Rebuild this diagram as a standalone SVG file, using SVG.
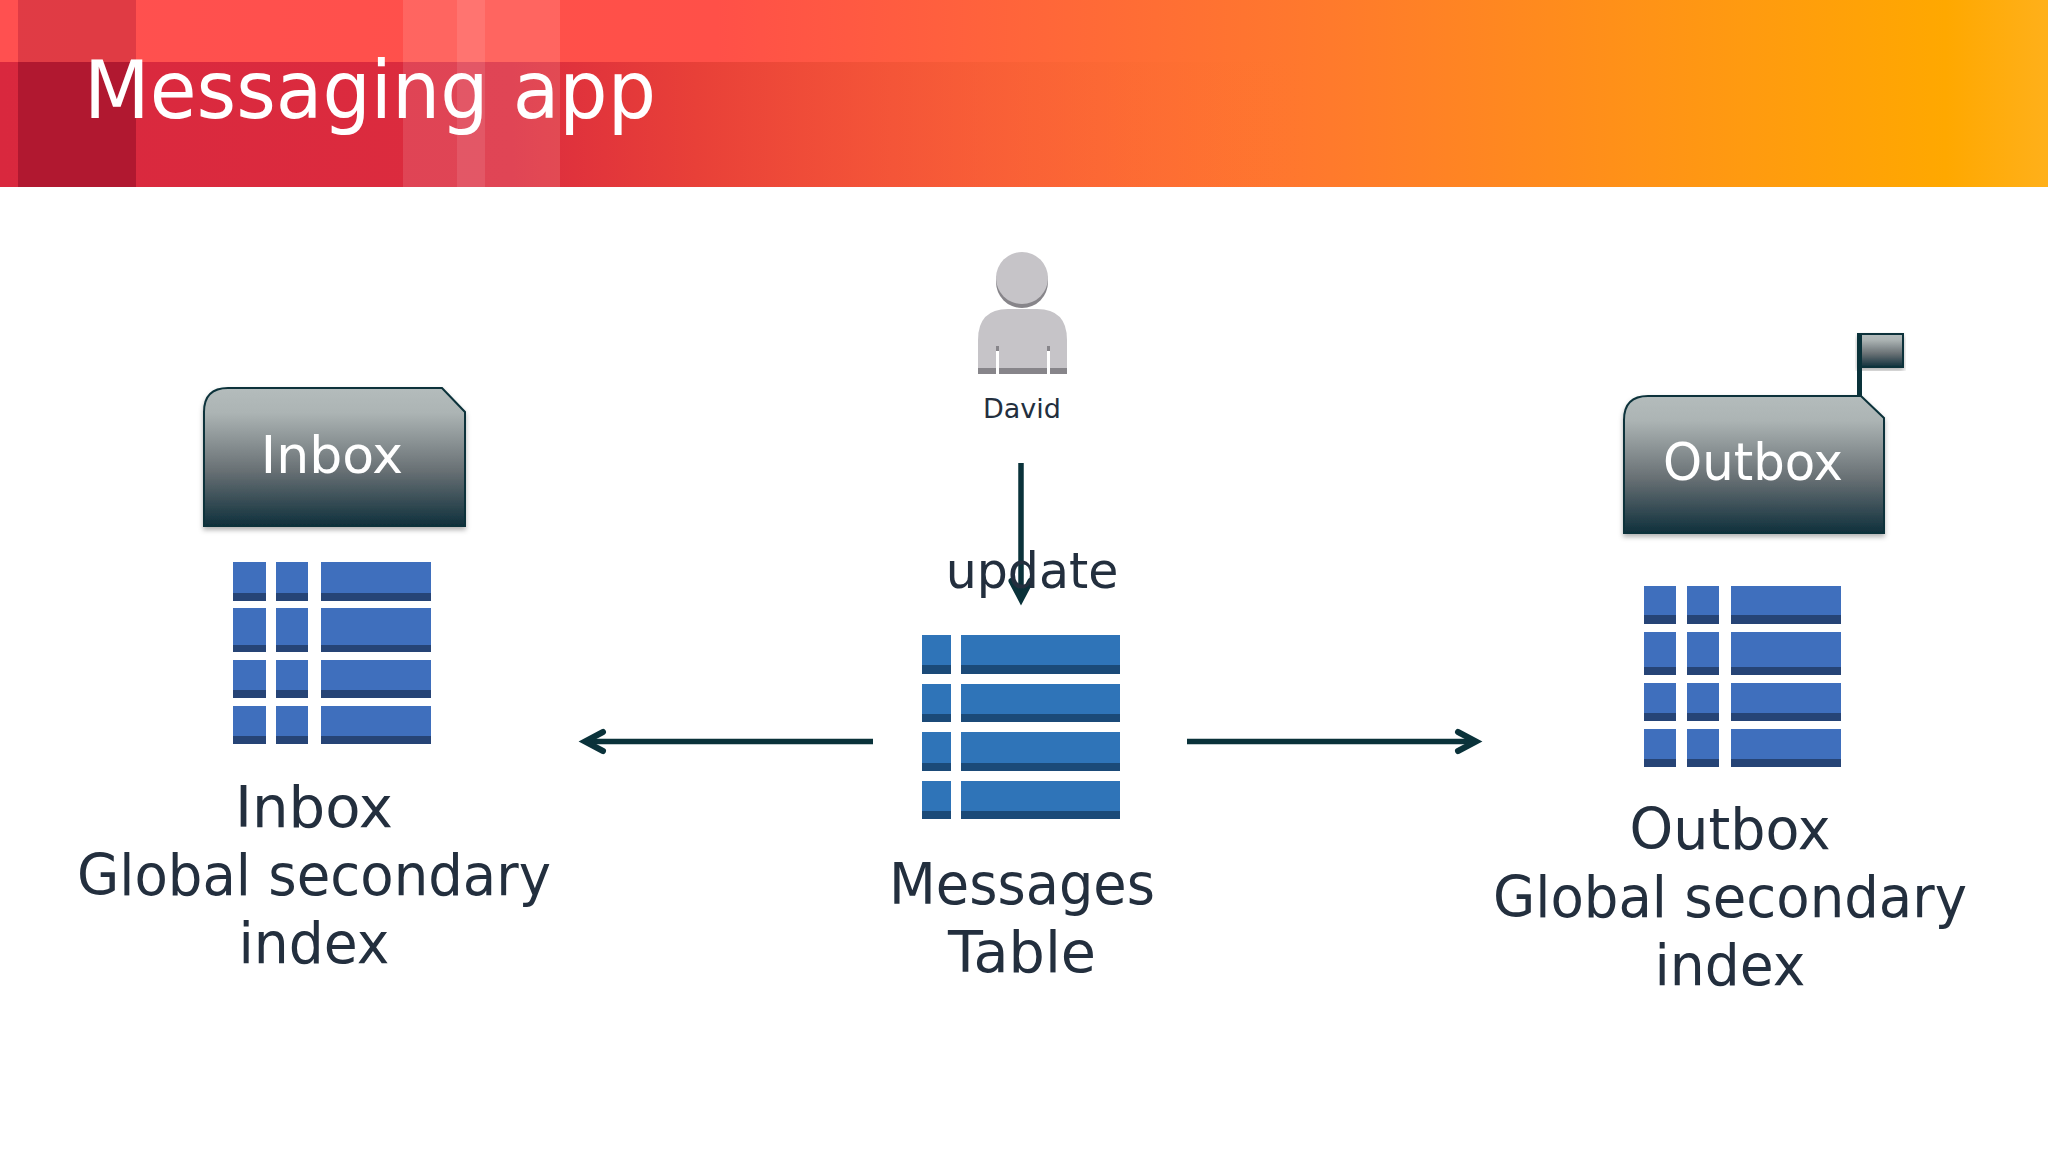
<svg xmlns="http://www.w3.org/2000/svg" width="2048" height="1152" viewBox="0 0 2048 1152">
<style>
.t{font-family:"DejaVu Sans",sans-serif;fill:#232f3e;text-anchor:middle}
.l{font-size:57px}
.w{fill:#fff;font-family:"DejaVu Sans",sans-serif;text-anchor:middle;font-size:52px}
.c{stroke:#0a323a;stroke-width:5.5;fill:none}
.a{fill:#3f6fbd}.ad{fill:#264476}
.b{fill:#2f74b8}.bd{fill:#1b4a78}
</style>
<defs>
<linearGradient id="hdr" x1="0" x2="1" y1="0" y2="0"><stop offset="0" stop-color="#ff5050"/><stop offset=".35" stop-color="#ff5048"/><stop offset=".65" stop-color="#ff7a2c"/><stop offset=".85" stop-color="#ff9a10"/><stop offset=".95" stop-color="#ffa800"/><stop offset="1" stop-color="#ffb01a"/></linearGradient>
<linearGradient id="dk" x1="0" x2="1" y1="0" y2="0"><stop offset="0" stop-color="#d9283e"/><stop offset=".25" stop-color="#dc2c3e"/><stop offset=".34" stop-color="#e84038"/><stop offset=".65" stop-color="#ff7a2c" stop-opacity="0"/></linearGradient>
<linearGradient id="box" x1="0" x2="0" y1="0" y2="1"><stop offset="0" stop-color="#b4bcbc"/><stop offset=".18" stop-color="#acb4b4"/><stop offset=".6" stop-color="#687074"/><stop offset="1" stop-color="#0f303c"/></linearGradient>
<filter id="sh" x="-5%" y="-5%" width="110%" height="115%"><feDropShadow dx="0" dy="3" stdDeviation="2.5" flood-color="#000" flood-opacity=".3"/></filter>
<marker id="arr" markerUnits="userSpaceOnUse" markerWidth="36" markerHeight="36" refX="26" refY="18" orient="auto"><path d="M8 8.5L26 18L8 27.5" fill="none" stroke="#0a323a" stroke-width="6" stroke-linecap="round" stroke-linejoin="miter"/></marker>
</defs>
<rect width="2048" height="1152" fill="#fff"/>
<g id="header">
<rect width="2048" height="187" fill="url(#hdr)"/>
<rect y="62" width="2048" height="125" fill="url(#dk)"/>
<rect x="18" width="118" height="187" fill="#a01030" opacity=".32"/>
<rect x="18" y="62" width="118" height="125" fill="#8a0c20" opacity=".35"/>
<rect x="403" width="157" height="187" fill="#fff" opacity=".12"/>
<rect x="457" width="28" height="187" fill="#fff" opacity=".1"/>
<text x="84" y="118" font-family="DejaVu Sans, sans-serif" font-size="80" fill="#fff" textLength="572" lengthAdjust="spacingAndGlyphs">Messaging app</text>
</g>
<g id="connectors">
<path class="c" d="M1021 463V599" marker-end="url(#arr)"/>
<path class="c" d="M873 741.5H585" marker-end="url(#arr)"/>
<path class="c" d="M1187 741.5H1476" marker-end="url(#arr)"/>
</g>
<g id="david">
<circle cx="1022" cy="282" r="26" fill="#87858a"/>
<circle cx="1022" cy="278" r="26" fill="#c6c4c8"/>
<path d="M978 374V340Q978 309 1008 309H1037Q1067 309 1067 340V374Z" fill="#c6c4c8"/>
<rect x="978" y="368" width="89" height="6" fill="#87858a"/>
<rect x="996" y="346" width="3" height="28" fill="#fff"/><rect x="1047" y="346" width="3" height="28" fill="#fff"/>
<rect x="996" y="346" width="3" height="5" fill="#87858a"/><rect x="1047" y="346" width="3" height="5" fill="#87858a"/>
<text class="t" x="1022" y="418" font-size="27">David</text>
</g>
<g id="update"><text class="t" x="1032" y="588" font-size="49">update</text></g>
<g id="inbox-box">
<path d="M204 526V412Q204 388 228 388H442L465 412V526Z" fill="url(#box)" stroke="#0a323a" stroke-width="2" filter="url(#sh)"/>
<text class="w" x="332" y="473">Inbox</text>
</g>
<g id="outbox-box">
<rect x="1858" y="334" width="45" height="33" fill="url(#box)" stroke="#0a323a" stroke-width="2" filter="url(#sh)"/>
<rect x="1857" y="333" width="5" height="64" fill="#0a323a"/>
<path d="M1624 533V420Q1624 396 1648 396H1861L1884 418V533Z" fill="url(#box)" stroke="#0a323a" stroke-width="2" filter="url(#sh)"/>
<text class="w" x="1753" y="480" textLength="180" lengthAdjust="spacingAndGlyphs">Outbox</text>
</g>
<g id="inbox-table">
<g class="a"><rect x="233" y="562" width="33" height="39"/><rect x="276" y="562" width="32" height="39"/><rect x="321" y="562" width="110" height="39"/><rect x="233" y="608" width="33" height="44"/><rect x="276" y="608" width="32" height="44"/><rect x="321" y="608" width="110" height="44"/><rect x="233" y="660" width="33" height="38"/><rect x="276" y="660" width="32" height="38"/><rect x="321" y="660" width="110" height="38"/><rect x="233" y="706" width="33" height="38"/><rect x="276" y="706" width="32" height="38"/><rect x="321" y="706" width="110" height="38"/></g>
<g class="ad"><rect x="233" y="593" width="33" height="8"/><rect x="276" y="593" width="32" height="8"/><rect x="321" y="593" width="110" height="8"/><rect x="233" y="645" width="33" height="7"/><rect x="276" y="645" width="32" height="7"/><rect x="321" y="645" width="110" height="7"/><rect x="233" y="690" width="33" height="8"/><rect x="276" y="690" width="32" height="8"/><rect x="321" y="690" width="110" height="8"/><rect x="233" y="736" width="33" height="8"/><rect x="276" y="736" width="32" height="8"/><rect x="321" y="736" width="110" height="8"/></g>
<text class="t l" x="314" y="827" textLength="158" lengthAdjust="spacingAndGlyphs">Inbox</text><text class="t l" x="314" y="895" textLength="474" lengthAdjust="spacingAndGlyphs">Global secondary</text><text class="t l" x="314" y="963" textLength="151" lengthAdjust="spacingAndGlyphs">index</text>
</g>
<g id="messages-table">
<g class="b"><rect x="922" y="635" width="29" height="39"/><rect x="961" y="635" width="159" height="39"/><rect x="922" y="684" width="29" height="38"/><rect x="961" y="684" width="159" height="38"/><rect x="922" y="732" width="29" height="39"/><rect x="961" y="732" width="159" height="39"/><rect x="922" y="781" width="29" height="38"/><rect x="961" y="781" width="159" height="38"/></g>
<g class="bd"><rect x="922" y="665" width="29" height="9"/><rect x="961" y="665" width="159" height="9"/><rect x="922" y="714" width="29" height="8"/><rect x="961" y="714" width="159" height="8"/><rect x="922" y="763" width="29" height="8"/><rect x="961" y="763" width="159" height="8"/><rect x="922" y="811" width="29" height="8"/><rect x="961" y="811" width="159" height="8"/></g>
<text class="t l" x="1022" y="904" textLength="266" lengthAdjust="spacingAndGlyphs">Messages</text><text class="t l" x="1022" y="972" textLength="148" lengthAdjust="spacingAndGlyphs">Table</text>
</g>
<g id="outbox-table">
<g class="a"><rect x="1644" y="586" width="32" height="38"/><rect x="1687" y="586" width="32" height="38"/><rect x="1731" y="586" width="110" height="38"/><rect x="1644" y="632" width="32" height="43"/><rect x="1687" y="632" width="32" height="43"/><rect x="1731" y="632" width="110" height="43"/><rect x="1644" y="683" width="32" height="38"/><rect x="1687" y="683" width="32" height="38"/><rect x="1731" y="683" width="110" height="38"/><rect x="1644" y="729" width="32" height="38"/><rect x="1687" y="729" width="32" height="38"/><rect x="1731" y="729" width="110" height="38"/></g>
<g class="ad"><rect x="1644" y="615" width="32" height="9"/><rect x="1687" y="615" width="32" height="9"/><rect x="1731" y="615" width="110" height="9"/><rect x="1644" y="667" width="32" height="8"/><rect x="1687" y="667" width="32" height="8"/><rect x="1731" y="667" width="110" height="8"/><rect x="1644" y="713" width="32" height="8"/><rect x="1687" y="713" width="32" height="8"/><rect x="1731" y="713" width="110" height="8"/><rect x="1644" y="759" width="32" height="8"/><rect x="1687" y="759" width="32" height="8"/><rect x="1731" y="759" width="110" height="8"/></g>
<text class="t l" x="1730" y="849" textLength="201" lengthAdjust="spacingAndGlyphs">Outbox</text><text class="t l" x="1730" y="917" textLength="474" lengthAdjust="spacingAndGlyphs">Global secondary</text><text class="t l" x="1730" y="985" textLength="151" lengthAdjust="spacingAndGlyphs">index</text>
</g>
</svg>
